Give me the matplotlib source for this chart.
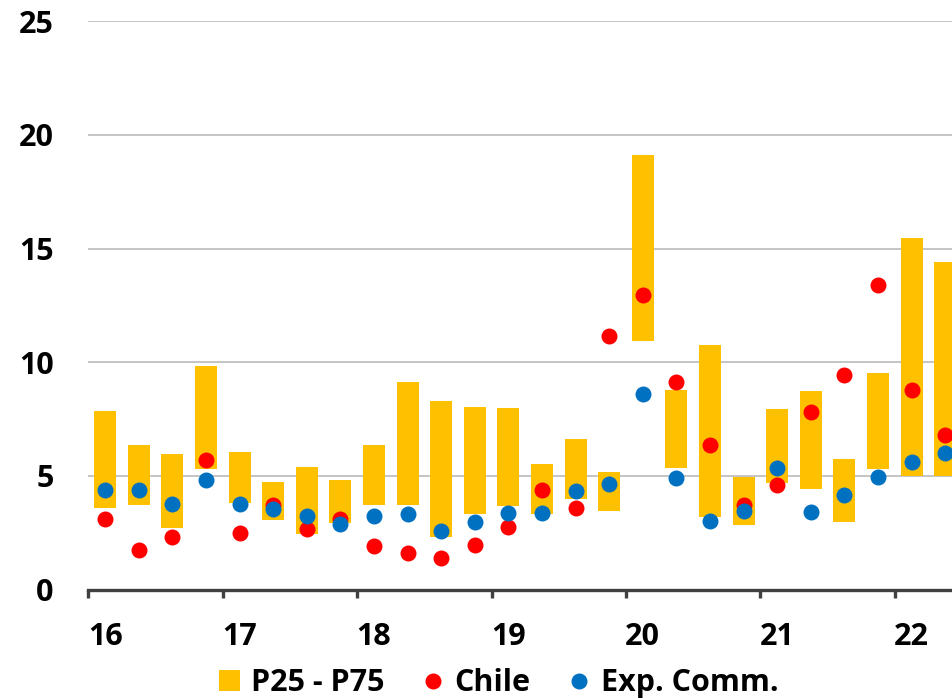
import numpy as np
import matplotlib
matplotlib.use('Agg')
import matplotlib.pyplot as plt
from matplotlib.patches import Patch
from matplotlib.lines import Line2D

plt.rcParams['font.family'] = ['Open Sans', 'DejaVu Sans']
plt.rcParams['font.weight'] = 'bold'

# quarterly values, 2016Q1 .. 2022Q2
years = ['16', '17', '18', '19', '20', '21', '22']
p25 = [3.61, 3.74, 2.70, 5.32, 3.83, 3.08, 2.46, 2.92, 3.71, 3.72, 2.33, 3.33, 3.67,
       3.33, 4.00, 3.47, 10.95, 5.34, 3.21, 2.86, 4.71, 4.41, 2.98, 5.29, 5.00, 5.00]
p75 = [7.87, 6.36, 5.97, 9.85, 6.06, 4.74, 5.40, 4.81, 6.38, 9.12, 8.31, 8.03, 8.00,
       5.53, 6.64, 5.16, 19.12, 8.78, 10.75, 4.97, 7.96, 8.72, 5.76, 9.53, 15.45, 14.40]
chile = [3.12, 1.73, 2.30, 5.70, 2.51, 3.71, 2.67, 3.11, 1.92, 1.61, 1.41, 1.98, 2.77,
         4.37, 3.59, 11.14, 12.97, 9.13, 6.36, 3.72, 4.59, 7.83, 9.43, 13.40, 8.77, 6.80]
exp_comm = [4.40, 4.37, 3.78, 4.84, 3.78, 3.55, 3.24, 2.89, 3.24, 3.33, 2.60, 2.99, 3.39,
            3.36, 4.34, 4.63, 8.59, 4.91, 3.04, 3.45, 5.37, 3.42, 4.15, 4.94, 5.60, 6.02]

yellow = '#FFC000'
red = '#FF0000'
blue = '#0070C0'

x = np.arange(len(p25))
low = np.array(p25)
high = np.array(p75)

fig = plt.figure(figsize=(9.53, 6.98), dpi=100)
ax = fig.add_axes([0.0927, 0.1552, 0.9167, 0.8145])

ax.bar(x, high - low, bottom=low, width=0.655, color=yellow, zorder=2)
ax.plot(x, chile, 'o', color=red, markersize=11.5, markeredgewidth=0, zorder=3)
ax.plot(x, exp_comm, 'o', color=blue, markersize=11.5, markeredgewidth=0, zorder=4)

ax.set_xlim(-0.5, len(x) - 0.5)
ax.set_ylim(0, 25)
ax.set_yticks([0, 5, 10, 15, 20, 25])
ax.yaxis.grid(True, color='#BFBFBF', linewidth=1.3, zorder=0)
ax.set_axisbelow(True)

for s in ['top', 'right', 'left']:
    ax.spines[s].set_visible(False)
ax.spines['bottom'].set_color('#404040')
ax.spines['bottom'].set_linewidth(2.4)

ax.set_xticks(np.arange(-0.5, len(x), 4))
ax.set_xticklabels([])
ax.set_xticks(np.arange(0, len(x), 4), minor=True)
ax.set_xticklabels(years, minor=True)
ax.tick_params(axis='x', which='major', direction='out', length=6, width=2.4, color='#404040')
ax.tick_params(axis='x', which='minor', length=0, pad=23, labelsize=22)
ax.tick_params(axis='y', length=0, pad=25, labelsize=22)
for lab in ax.get_yticklabels() + ax.get_xticklabels(minor=True):
    lab.set_fontweight('bold')

handles = [
    Patch(facecolor=yellow, edgecolor='none', label='P25 - P75'),
    Line2D([], [], marker='o', linestyle='none', color=red, markersize=11.5,
           markeredgewidth=0, label='Chile'),
    Line2D([], [], marker='o', linestyle='none', color=blue, markersize=11.5,
           markeredgewidth=0, label='Exp. Comm.'),
]
fig.legend(handles=handles, loc='center', bbox_to_anchor=(0.523, 0.021), ncol=3,
           frameon=False, prop={'size': 22, 'weight': 'bold'},
           handlelength=0.7, handleheight=0.7, handletextpad=0.35,
           columnspacing=1.25, borderpad=0)

fig.savefig('out.png', dpi=100)
